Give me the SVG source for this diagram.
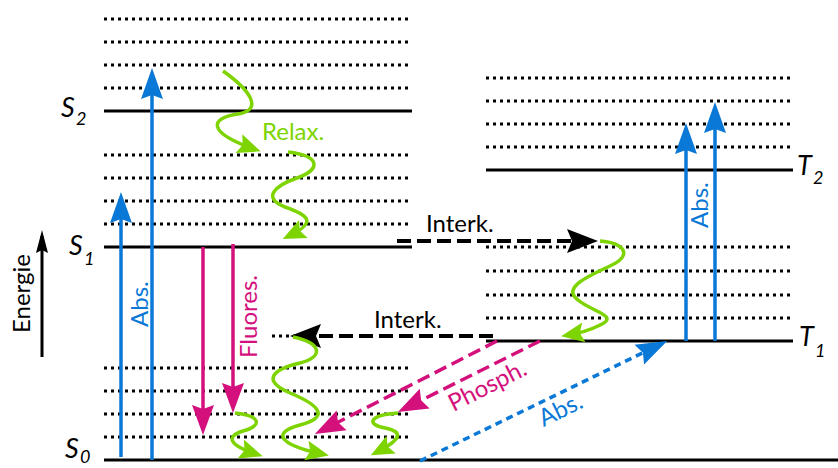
<svg xmlns="http://www.w3.org/2000/svg" width="838" height="468" viewBox="0 0 838 468">
<style>
.solid{stroke:#000;stroke-width:3;fill:none}
.dot{stroke:#000;stroke-width:3;stroke-dasharray:3 4;fill:none}
.t{font-family:Lato,"Liberation Sans",sans-serif;font-size:24px}
.lv{font-family:Lato,"Liberation Sans",sans-serif;font-style:italic;font-size:27px}
.sb{font-family:Lato,"Liberation Sans",sans-serif;font-style:italic;font-size:18px}
.blue{stroke:#0a78d6;stroke-width:3.5;fill:none}
.mag{stroke:#d4107c;stroke-width:3.5;fill:none}
.grn{stroke:#7ed400;stroke-width:3.5;fill:none}
.blk{stroke:#000;stroke-width:4;fill:none}
</style>
<defs>
<marker id="hb" viewBox="-32 -12 34 24" refX="-8" refY="0" markerWidth="34" markerHeight="24" markerUnits="userSpaceOnUse" orient="auto"><path d="M0,0 L-31,-11 L-27,0 L-31,11 Z" fill="#0a78d6"/></marker>
<marker id="hm" viewBox="-32 -12 34 24" refX="-8" refY="0" markerWidth="34" markerHeight="24" markerUnits="userSpaceOnUse" orient="auto"><path d="M0,0 L-30,-11 L-26,0 L-30,11 Z" fill="#d4107c"/></marker>
<marker id="hk" viewBox="-32 -13 34 26" refX="-8" refY="0" markerWidth="34" markerHeight="26" markerUnits="userSpaceOnUse" orient="auto"><path d="M0,0 L-31,-12 L-26,0 L-31,12 Z" fill="#000"/></marker>
<marker id="hg" viewBox="-25 -11 27 22" refX="-7" refY="0" markerWidth="27" markerHeight="22" markerUnits="userSpaceOnUse" orient="auto"><path d="M0,0 L-23,-10 L-19,0 L-23,10 Z" fill="#7ed400"/></marker>
<marker id="he" viewBox="-24 -7 26 14" refX="-6" refY="0" markerWidth="26" markerHeight="14" markerUnits="userSpaceOnUse" orient="auto"><path d="M0,0 L-23,-6 L-20,0 L-23,6 Z" fill="#000"/></marker>
</defs>
<rect width="838" height="468" fill="#fff"/>

<g id="S2">
<path class="dot" d="M104,19H412M104,42H412M104,65H412M104,88H412"/>
<path class="solid" d="M104,111H412"/>
<text class="lv" x="61" y="117">S</text><text class="sb" x="76" y="125">2</text>
</g>
<g id="S1">
<path class="dot" d="M104,155H412M104,178H412M104,201H412M104,224H412"/>
<path class="solid" d="M104,247H412"/>
<text class="lv" x="69" y="255">S</text><text class="sb" x="84" y="265">1</text>
</g>
<g id="S0">
<path class="dot" d="M104,368H412M104,391H412M104,414H412M104,437H412M272,336H296"/>
<path class="solid" d="M104,460H838"/>
<text class="lv" x="65" y="458">S</text><text class="sb" x="80" y="463">0</text>
</g>
<g id="T2">
<path class="dot" d="M486,78H793M486,101H793M486,124H793M486,147H793"/>
<path class="solid" d="M486,170H793"/>
<text class="lv" x="797" y="175">T</text><text class="sb" x="813" y="184">2</text>
</g>
<g id="T1">
<path class="dot" d="M486,247H793M486,271H793M486,295H793M486,318H793"/>
<path class="solid" d="M486,341H793"/>
<text class="lv" x="799" y="346">T</text><text class="sb" x="815" y="357">1</text>
</g>
<g id="energy-axis">
<path d="M42,357V236" stroke="#000" stroke-width="3" fill="none" marker-end="url(#he)"/>
<text class="t" transform="translate(30,333) rotate(-90)">Energie</text>
</g>

<g id="connectors">
<path class="blue" d="M121,457V200" marker-end="url(#hb)"/>
<path class="blue" d="M152,460V76" marker-end="url(#hb)"/>
<path class="blue" d="M686,341V131" marker-end="url(#hb)"/>
<path class="blue" d="M715,341V110" marker-end="url(#hb)"/>
<path class="blue" d="M420,461L660,344.5" stroke-dasharray="7 5" marker-end="url(#hb)"/>
<path class="mag" d="M203,247V427" marker-end="url(#hm)"/>
<path class="mag" d="M233,244V405" marker-end="url(#hm)"/>
<path class="mag" d="M497,341L322,430.4" stroke-width="4" stroke-dasharray="13 6" marker-end="url(#hm)"/>
<path class="mag" d="M540,341L405,408.4" stroke-width="4" stroke-dasharray="13 6" marker-end="url(#hm)"/>
<path class="blk" d="M397,241H590" stroke-dasharray="14 6" marker-end="url(#hk)"/>
<path class="blk" d="M493,336H298" stroke-dasharray="14 6" marker-end="url(#hk)"/>
<path class="grn" d="M223,71C250,90 264,110 238,114C210,118 206,132 254,149" marker-end="url(#hg)"/>
<path class="grn" d="M288,152C322,156 320,170 297,178C274,186 262,198 285,207C308,215 318,222 289,236" marker-end="url(#hg)"/>
<path class="grn" d="M600,241C624,243 634,255 610,266C586,277 562,288 578,300C592,312 622,316 598,326C590,330 580,333 568,335" marker-end="url(#hg)"/>
<path class="grn" d="M235,413C262,416 262,426 243,431C226,436 228,445 256,454" marker-end="url(#hg)"/>
<path class="grn" d="M293,337C322,343 324,357 300,363C274,369 260,380 290,393C324,407 327,418 300,425C273,432 276,444 322,454" marker-end="url(#hg)"/>
<path class="grn" d="M398,413C370,415 365,424 385,428C405,432 400,440 377,452" marker-end="url(#hg)"/>
</g>

<g id="labels">
<text class="t" x="262" y="140" fill="#7ed400">Relax.</text>
<text class="t" x="426" y="232">Interk.</text>
<text class="t" x="374" y="328">Interk.</text>
<text class="t" fill="#0a78d6" transform="translate(148,327) rotate(-90)">Abs.</text>
<text class="t" fill="#d4107c" transform="translate(257,358) rotate(-90)">Fluores.</text>
<text class="t" fill="#0a78d6" transform="translate(708,228) rotate(-90)">Abs.</text>
<text class="t" fill="#d4107c" text-anchor="middle" transform="translate(491,393) rotate(-26.8)">Phosph.</text>
<text class="t" fill="#0a78d6" text-anchor="middle" transform="translate(564,417) rotate(-25.9)">Abs.</text>
</g>
</svg>
